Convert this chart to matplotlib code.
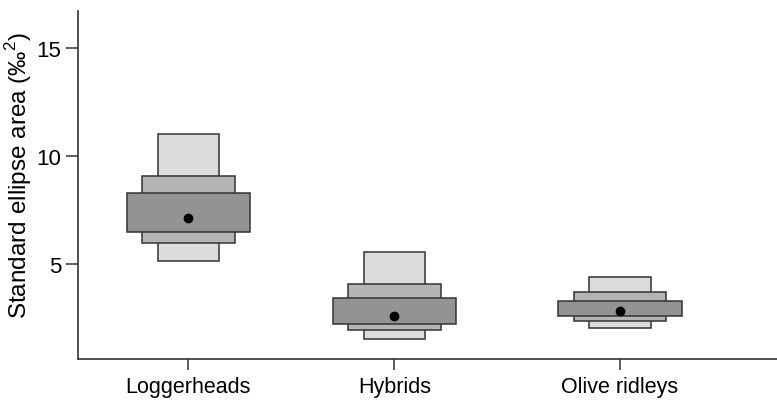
import matplotlib.pyplot as plt
from matplotlib.patches import Rectangle

plt.rcParams['font.family'] = ['Liberation Sans', 'DejaVu Sans']
plt.rcParams['mathtext.fontset'] = 'custom'
plt.rcParams['mathtext.rm'] = 'Liberation Sans'

# datos (SEA bayesiano, intervalos de credibilidad)
grupos = ['Loggerheads', 'Hybrids', 'Olive ridleys']
posiciones = [1.0, 2.0, 3.095]
moda = [7.12, 2.61, 2.84]
ic95_inf = [5.14, 1.53, 2.05]
ic95_sup = [11.0, 5.54, 4.38]
ic75_inf = [5.97, 1.96, 2.38]
ic75_sup = [9.08, 4.07, 3.69]
ic50_inf = [6.47, 2.24, 2.58]
ic50_sup = [8.29, 3.44, 3.30]

fig = plt.figure(figsize=(7.77, 4.02), dpi=100)
ax = fig.add_axes([0.1004, 0.1045, 0.8996, 0.866])

# cajas de mas ancha (50%) a mas angosta (95%), dibujo las angostas primero
niveles = [(ic95_inf, ic95_sup, 0.30, '#dcdcdc'),
           (ic75_inf, ic75_sup, 0.45, '#b4b4b4'),
           (ic50_inf, ic50_sup, 0.60, '#939393')]
for inf, sup, ancho, color in niveles:
    for x, lo, hi in zip(posiciones, inf, sup):
        ax.add_patch(Rectangle((x - ancho / 2, lo), ancho, hi - lo,
                               facecolor=color, edgecolor='#333333', linewidth=1.1))

ax.plot(posiciones, moda, 'o', color='black', markersize=6, zorder=5)

ax.set_xlim(0.464, 3.857)
ax.set_ylim(0.6, 16.7)
ax.set_xticks(posiciones)
ax.set_xticklabels(grupos)
ax.set_yticks([5, 10, 15])
ax.set_ylabel('Standard ellipse area (‰$^2$)', fontsize=17.5)
ax.yaxis.set_label_coords(-0.063, 0.53)

for s in ['top', 'right']:
    ax.spines[s].set_visible(False)
for s in ['left', 'bottom']:
    ax.spines[s].set_color('#333333')
    ax.spines[s].set_linewidth(1.2)
ax.tick_params(axis='both', labelsize=16, length=9, width=1.1, color='#333333')
ax.tick_params(axis='x', labelsize=15.5, length=8, pad=4)
ax.tick_params(axis='y', pad=3)

fig.savefig('out.png', dpi=100)
